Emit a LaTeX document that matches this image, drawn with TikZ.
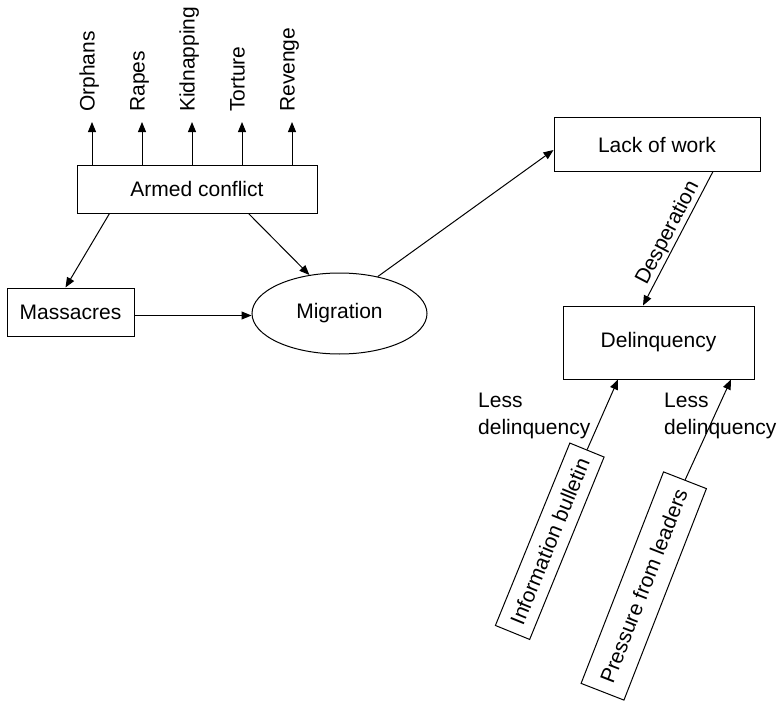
\documentclass[tikz,border=0pt]{standalone}
\usepackage{fontspec}
\setmainfont{Liberation Sans}
\usetikzlibrary{shapes.geometric,arrows.meta,calc}
\begin{document}
\begin{tikzpicture}[x=1pt,y=-1pt,
  every node/.style={font=\fontsize{21}{27}\selectfont},
  box/.style={draw, line width=1pt, inner sep=0pt},
  arr/.style={line width=1pt, -{Triangle[length=10pt,width=8pt]}},
  outcome/.style={rotate=90, anchor=west, inner xsep=10pt, inner ysep=0pt,
                  text height=0.75em, text depth=0.22em},
  note/.style={align=left, anchor=north west, inner sep=0pt}]
\useasboundingbox (0,0) rectangle (780,701);

% main boxes
\node[box, minimum width=240pt, minimum height=48pt] (armed) at (197,189) {Armed conflict};
\node[box, minimum width=127pt, minimum height=48pt] (mass) at (70.5,312) {Massacres};
\node[box, ellipse, minimum width=175pt, minimum height=81pt] (mig) at (339.5,313.5) {Migration};
\node[box, minimum width=206pt, minimum height=53pt] (lack) at (657,144.5) {Lack of work};
\node[box, minimum width=191pt, minimum height=73pt] (delin) at (658.5,342.5) {Delinquency};

% tilted boxes
\node[box, rotate=67.8, minimum width=197pt, minimum height=37pt] (info) at (549.75,541.25) {Information bulletin};
\node[box, rotate=68.7, minimum width=227pt, minimum height=46pt] (press) at (643.75,586) {Pressure from leaders};

% outcomes of the conflict
\node[outcome] (orphans) at (92,122) {Orphans};
\node[outcome] (rapes) at (142,122) {Rapes};
\node[outcome] (kidnap) at (192,122) {Kidnapping};
\node[outcome] (torture) at (242,122) {Torture};
\node[outcome] (revenge) at (292,122) {Revenge};

\foreach \o in {orphans,rapes,kidnap,torture,revenge}
  \draw[arr] (\o.west |- armed.north) -- (\o.west);

% connectors
\draw[arr] ($(armed.south west)+(33,0)$) -- ($(mass.north west)+(59,0)$);
\draw[arr] ($(armed.south west)+(172,0)$) -- (mig.128.6);
\draw[arr] ($(mass.east)+(0,3.5)$) coordinate (m1) -- (m1 -| mig.west);
\draw[arr] (mig.44) -- ($(lack.west)+(0,5.5)$);
\draw[arr] ($(lack.south)+(56,0)$) -- node[sloped, midway, above, inner sep=1pt] {Desperation} ($(delin.north)+(-15.5,0)$);
\draw[arr] (info.east) -- ($(delin.south)+(-40.5,0)$);
\draw[arr] (press.east) -- ($(delin.south)+(72.5,0)$);

% labels of the lower arrows
\node[note] (less1) at (478,393) {Less\\delinquency};
\node[note] (less2) at (664,393) {Less\\delinquency};
\end{tikzpicture}
\end{document}
